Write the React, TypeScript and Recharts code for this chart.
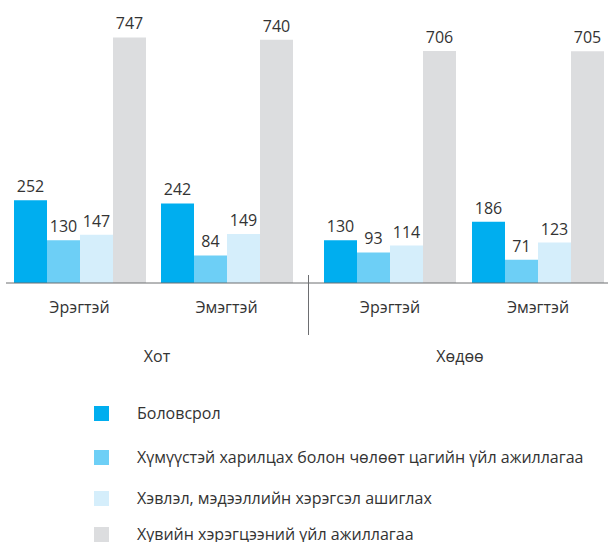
import React from 'react';
import { BarChart, Bar, XAxis, YAxis, LabelList } from 'recharts';

const categories = ['Эрэгтэй', 'Эмэгтэй', 'Эрэгтэй', 'Эмэгтэй'];
const regions = ['Хот', 'Хөдөө'];
const seriesNames = [
  'Боловсрол',
  'Хүмүүстэй харилцах болон чөлөөт цагийн үйл ажиллагаа',
  'Хэвлэл, мэдээллийн хэрэгсэл ашиглах',
  'Хувийн хэрэгцээний үйл ажиллагаа',
];
const education = [252, 242, 130, 186];
const social = [130, 84, 93, 71];
const media = [147, 149, 114, 123];
const personal = [747, 740, 706, 705];

const colors = ['#00aeef', '#6dcff6', '#d5eefb', '#dcdddf'];
const keys = ['s0', 's1', 's2', 's3'];
const seriesValues = [education, social, media, personal];

const FONT = '"Open Sans", "Noto Sans", sans-serif';
const TEXT = '#333333';
const AXIS = '#6d6e71';

const buildData = (from: number, to: number) =>
  categories.slice(from, to).map((name, i) => {
    const row: Record<string, string | number> = { name };
    seriesValues.forEach((vals, s) => {
      row[keys[s]] = vals[from + i];
    });
    return row;
  });

const leftData = buildData(0, 2);
const rightData = buildData(2, 4);

function RegionChart({
  data,
  region,
  width,
  marginLeft,
  padding,
}: {
  data: Record<string, string | number>[];
  region: string;
  width: number;
  marginLeft: number;
  padding: { left: number; right: number };
}) {
  return (
    <BarChart
      width={width}
      height={370}
      data={data}
      margin={{ top: 20, right: 0, left: marginLeft, bottom: 8 }}
      barGap={0}
      barSize={33}
    >
      <XAxis
        dataKey="name"
        height={79}
        padding={padding}
        axisLine={{ stroke: AXIS, strokeWidth: 1 }}
        tickLine={false}
        tickSize={6}
        tickMargin={13}
        interval={0}
        tick={{ fill: TEXT, fontSize: 16, fontFamily: FONT }}
        label={{
          value: region,
          position: 'insideBottom',
          offset: 0,
          fill: TEXT,
          fontSize: 16,
          fontFamily: FONT,
        }}
      />
      <YAxis hide domain={[0, 800]} />
      {keys.map((k, s) => (
        <Bar key={k} dataKey={k} name={seriesNames[s]} fill={colors[s]} isAnimationActive={false}>
          <LabelList
            dataKey={k}
            position="top"
            offset={8}
            fill={TEXT}
            fontSize={16}
            fontFamily={FONT}
          />
        </Bar>
      ))}
    </BarChart>
  );
}

const legendTops = [405, 449, 490, 526];

export default function App() {
  return (
    <div
      style={{
        position: 'absolute',
        left: 0,
        top: 0,
        width: 608,
        height: 542,
        overflow: 'hidden',
        background: '#ffffff',
        fontFamily: FONT,
      }}
    >
      <div style={{ position: 'absolute', left: 0, top: 0 }}>
        <RegionChart
          data={leftData}
          region={regions[0]}
          width={308}
          marginLeft={6}
          padding={{ left: 0, right: 8 }}
        />
      </div>
      <div style={{ position: 'absolute', left: 308, top: 0 }}>
        <RegionChart
          data={rightData}
          region={regions[1]}
          width={304}
          marginLeft={0}
          padding={{ left: 8, right: 0 }}
        />
      </div>
      <div
        style={{
          position: 'absolute',
          left: 308,
          top: 275,
          width: 1,
          height: 60,
          background: AXIS,
        }}
      />
      {seriesNames.map((n, s) => (
        <div
          key={n}
          style={{
            position: 'absolute',
            left: 94,
            top: legendTops[s],
            display: 'flex',
            alignItems: 'center',
            height: 16,
          }}
        >
          <div style={{ width: 15, height: 15, background: colors[s], marginRight: 28 }} />
          <span style={{ fontSize: 16, color: TEXT, whiteSpace: 'nowrap', lineHeight: '16px' }}>{n}</span>
        </div>
      ))}
    </div>
  );
}
